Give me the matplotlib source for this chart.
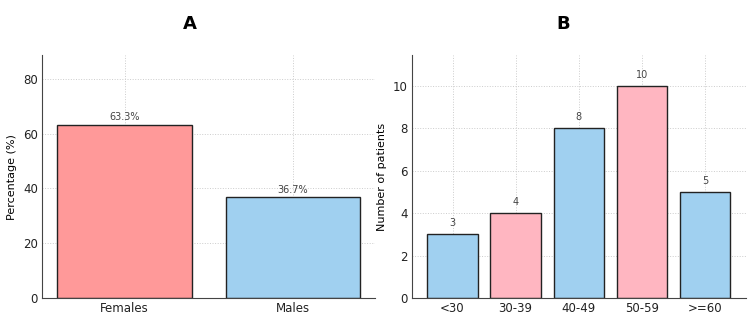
import matplotlib.pyplot as plt
from matplotlib.ticker import MultipleLocator

# panel A - sex distribution
sex = ['Females', 'Males']
sex_pct = [63.3, 36.7]
sex_colors = ['#FF9999', '#A0D0F0']

# panel B - age groups
ages = ['<30', '30-39', '40-49', '50-59', '>=60']
age_counts = [3, 4, 8, 10, 5]
age_colors = ['#A0D0F0', '#FFB6C1', '#A0D0F0', '#FFB6C1', '#A0D0F0']

fig, (ax1, ax2) = plt.subplots(1, 2, figsize=(7.5, 3.17), dpi=100)
fig.subplots_adjust(left=0.056, right=0.994, top=0.826, bottom=0.06, wspace=0.11)

for ax in (ax1, ax2):
    ax.grid(True, linestyle=':', color='#cccccc', linewidth=0.7)
    ax.set_axisbelow(True)
    ax.spines['top'].set_visible(False)
    ax.spines['right'].set_visible(False)
    ax.spines['left'].set_color('#444444')
    ax.spines['bottom'].set_color('#444444')
    ax.tick_params(length=0, labelsize=8.5, colors='#222222', pad=3)

b1 = ax1.bar(sex, sex_pct, color=sex_colors, edgecolor='#222222', linewidth=1)
for b, v in zip(b1, sex_pct):
    ax1.text(b.get_x() + b.get_width() / 2, v + 1, f'{v}%', ha='center', va='bottom',
             fontsize=7, color='#444444')
ax1.set_ylim(0, max(sex_pct) * 1.4)
ax1.yaxis.set_major_locator(MultipleLocator(20))
ax1.set_ylabel('Percentage (%)', fontsize=8)
ax1.set_title('A', fontsize=13, fontweight='bold', pad=19, x=0.444)

b2 = ax2.bar(ages, age_counts, color=age_colors, edgecolor='#222222', linewidth=1)
for b, v in zip(b2, age_counts):
    ax2.text(b.get_x() + b.get_width() / 2, v + 0.3, str(v), ha='center', va='bottom',
             fontsize=7, color='#444444')
ax2.set_ylim(0, max(age_counts) + 1.45)
ax2.yaxis.set_major_locator(MultipleLocator(2))
ax2.set_ylabel('Number of patients', fontsize=8)
ax2.set_title('B', fontsize=13, fontweight='bold', pad=19, x=0.453)

plt.savefig('out.png', dpi=100)
